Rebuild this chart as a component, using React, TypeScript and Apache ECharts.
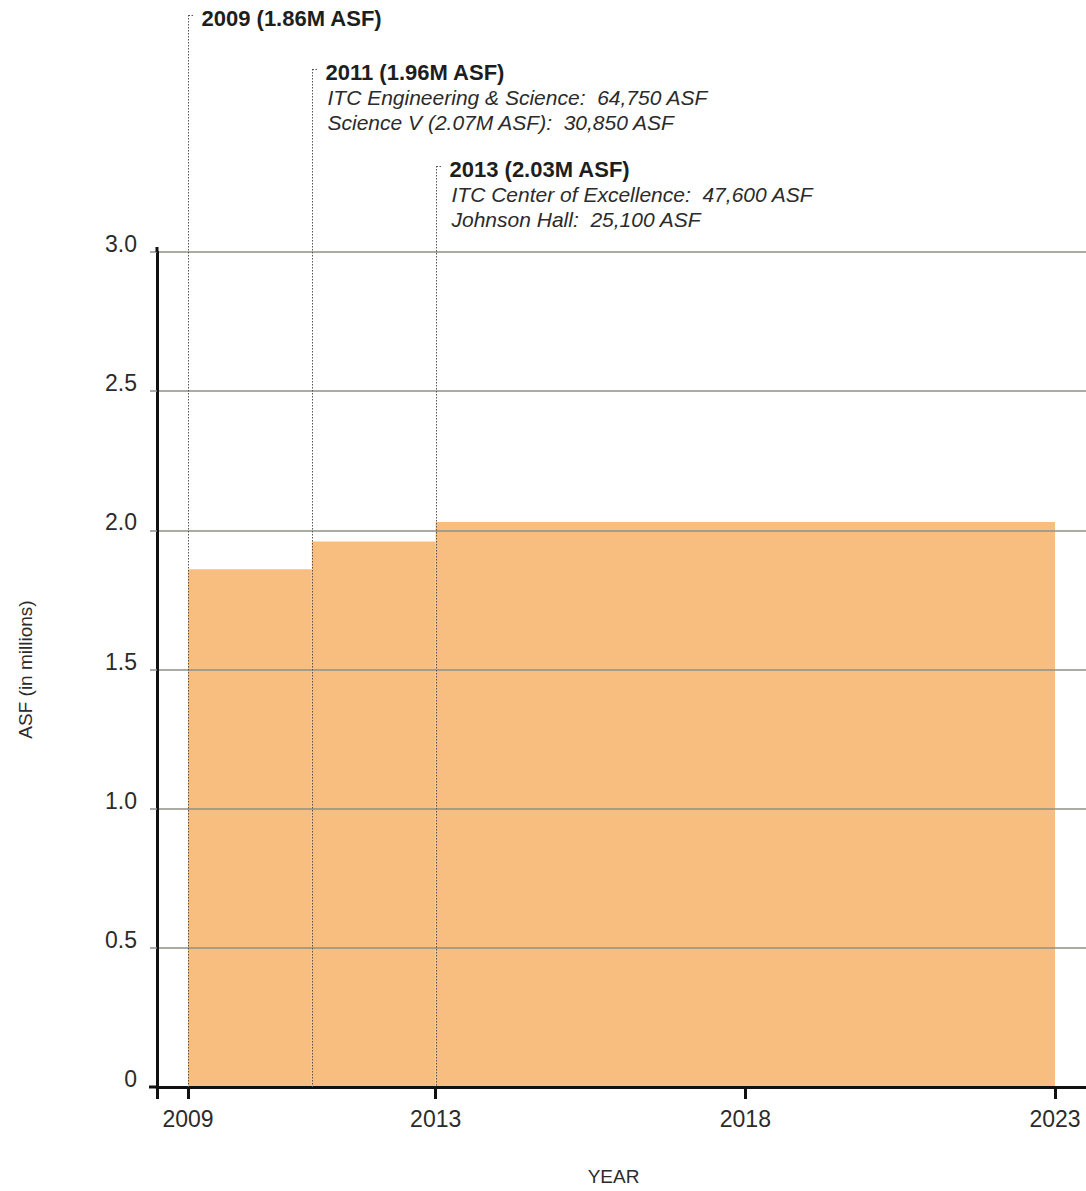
import React, { useEffect, useRef } from "react";
import * as echarts from "echarts";

// Assignable square footage (millions) as a step series: each step holds from its start year to its end year.
const stepStartYears = [2009, 2011, 2013];
const stepEndYears = [2011, 2013, 2023];
const asfMillions = [1.86, 1.96, 2.03];

// Year ticks and labels along the bottom axis.
const yearLabels = [2009, 2013, 2018, 2023];
const yearTicks = [2008.5, 2009, 2013, 2018, 2023];

// Annotation callouts.
const noteYears = [2009, 2011, 2013];
const noteTitles = ["2009 (1.86M ASF)", "2011 (1.96M ASF)", "2013 (2.03M ASF)"];
const noteDetails = [
  [],
  ["ITC Engineering & Science:  64,750 ASF", "Science V (2.07M ASF):  30,850 ASF"],
  ["ITC Center of Excellence:  47,600 ASF", "Johnson Hall:  25,100 ASF"],
];

// Layout (pixels)
const WIDTH = 1086;
const HEIGHT = 1191;
const NOTE_TOPS = [15, 69, 166];
const FONT = "'Liberation Sans', Arial, sans-serif";
const TEXT = "#2b2b2b";
const GRID_GREY = "#8e9186";
const FILL = "#f8be80";

export default function App() {
  const ref = useRef<HTMLDivElement>(null);

  useEffect(() => {
    if (!ref.current) return;
    const chart = echarts.init(ref.current, null, { renderer: "svg" });

    const steps = stepStartYears.map((s, i) => [s, stepEndYears[i], asfMillions[i]]);

    chart.setOption({
      animation: false,
      grid: { left: 157, right: 0, top: 252, bottom: 101 },
      xAxis: {
        type: "value",
        min: 2008.5,
        max: 2023.5,
        name: "YEAR",
        nameLocation: "middle",
        nameGap: 80,
        nameTextStyle: { color: TEXT, fontSize: 19, fontFamily: FONT, padding: [0, 16, 0, 0] },
        axisLine: { show: true, lineStyle: { color: "#111", width: 3 } },
        axisTick: {
          show: true,
          length: 12,
          customValues: yearTicks,
          lineStyle: { color: "#111", width: 3 },
        },
        axisLabel: {
          customValues: yearLabels,
          color: TEXT,
          fontSize: 23,
          fontFamily: FONT,
          margin: 20,
          formatter: (v: number) => String(v),
        },
        splitLine: { show: false },
      },
      yAxis: {
        type: "value",
        min: 0,
        max: 3,
        interval: 0.5,
        name: "ASF (in millions)",
        nameLocation: "middle",
        nameGap: 122,
        nameTextStyle: { color: TEXT, fontSize: 19, fontFamily: FONT },
        axisLine: { show: true, lineStyle: { color: "#111", width: 3 } },
        axisTick: { show: true, length: 7, lineStyle: { color: GRID_GREY, width: 1.5 } },
        axisLabel: {
          color: TEXT,
          fontSize: 23,
          fontFamily: FONT,
          margin: 20,
          verticalAlign: "bottom",
          lineHeight: 16,
          formatter: (v: number) => (v === 0 ? "0" : v.toFixed(1)),
        },
        splitLine: { show: true, lineStyle: { color: GRID_GREY, width: 1.5 } },
      },
      series: [
        {
          type: "custom",
          z: -1,
          data: steps,
          encode: { x: [0, 1], y: 2 },
          renderItem: (_params: any, api: any) => {
            const topLeft = api.coord([api.value(0), api.value(2)]);
            const bottomRight = api.coord([api.value(1), 0]);
            return {
              type: "rect",
              shape: {
                x: topLeft[0],
                y: topLeft[1],
                width: bottomRight[0] - topLeft[0],
                height: bottomRight[1] - topLeft[1],
              },
              style: { fill: FILL },
            };
          },
        },
      ],
    });

    // Callout leader lines and texts, placed from the x axis scale.
    const baseY = chart.convertToPixel({ yAxisIndex: 0 }, 0) as number;
    const topY = chart.convertToPixel({ yAxisIndex: 0 }, 3) as number;
    const axisX = chart.convertToPixel({ xAxisIndex: 0 }, 2008.5) as number;
    const dotted = { stroke: "#555", lineWidth: 1, lineDash: [1.5, 1.5] };
    const graphics: any[] = [];
    noteYears.forEach((yr, i) => {
      const x = Math.round(chart.convertToPixel({ xAxisIndex: 0 }, yr) as number) + 0.5;
      const top = NOTE_TOPS[i];
      graphics.push({
        type: "line",
        z: 10,
        shape: { x1: x, y1: top, x2: x, y2: baseY },
        style: dotted,
      });
      graphics.push({
        type: "line",
        z: 10,
        shape: { x1: x, y1: top + 0.5, x2: x + 6, y2: top + 0.5 },
        style: dotted,
      });
      graphics.push({
        type: "text",
        z: 10,
        x: x + 13,
        y: top + 3,
        style: {
          text: noteTitles[i],
          font: `bold 22px ${FONT}`,
          fill: "#1e1e1e",
          textVerticalAlign: "middle",
        },
      });
      noteDetails[i].forEach((line, j) => {
        graphics.push({
          type: "text",
          z: 10,
          x: x + 15,
          y: top + 3 + 25 * (j + 1),
          style: {
            text: line,
            font: `italic 21px ${FONT}`,
            fill: TEXT,
            textVerticalAlign: "middle",
          },
        });
      });
    });
    // Axis overhangs: y axis above 3.0 and x axis left of the y axis.
    graphics.push({
      type: "line",
      z: 10,
      shape: { x1: axisX, y1: topY - 5, x2: axisX, y2: topY },
      style: { stroke: "#111", lineWidth: 3 },
    });
    graphics.push({
      type: "line",
      z: 10,
      shape: { x1: axisX - 8, y1: baseY, x2: axisX, y2: baseY },
      style: { stroke: "#111", lineWidth: 3 },
    });
    chart.setOption({ graphic: graphics });

    return () => chart.dispose();
  }, []);

  return (
    <div
      ref={ref}
      style={{ position: "fixed", left: 0, top: 0, width: WIDTH, height: HEIGHT, background: "#fff" }}
    />
  );
}
